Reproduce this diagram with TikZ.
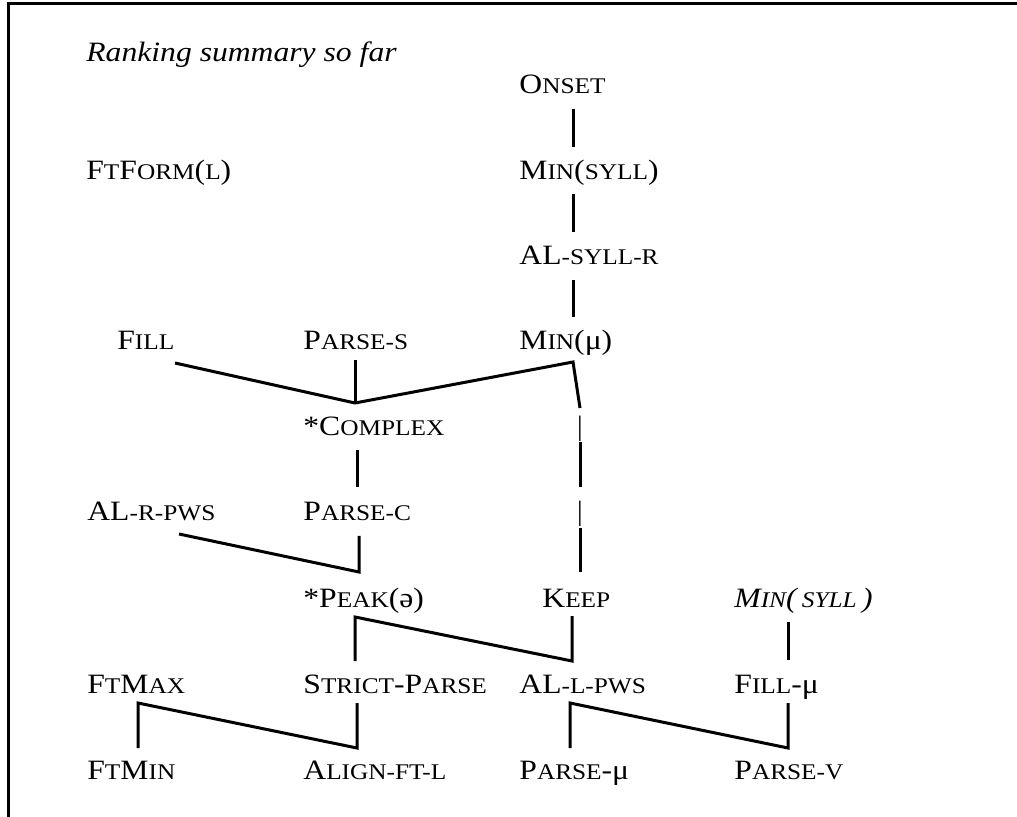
\documentclass[tikz,border=0pt]{standalone}
\usepackage{fontspec}
\setmainfont{Liberation Serif}
\usepackage{graphicx}
\newcommand\sm[1]{{\fontsize{11.2pt}{13pt}\selectfont #1}}
\newcommand\tx[1]{\scalebox{1.13}[1]{#1}}
\begin{document}
\begin{tikzpicture}[x=0.5pt,y=-0.5pt,
  lab/.style={anchor=base west,inner sep=0pt,font=\fontsize{14pt}{17pt}\selectfont},
  glyph/.style={anchor=base,inner sep=0pt,font=\fontsize{14pt}{17pt}\selectfont},
  con/.style={line width=1.5pt,line join=miter,line cap=butt},
  frame/.style={line width=1.5pt,line join=miter}]
\useasboundingbox (0,0) rectangle (1017,817);
\draw[frame] (8.5,817) -- (8.5,3.5) -- (1017,3.5);
% texts
\node[lab] (title) at (86,62) {\tx{\textit{Ranking summary so far}}};
\node[lab] (onset) at (519,94) {\tx{O\sm{NSET}}};
\node[lab] (ftform) at (86,180) {\tx{F\sm{T}F\sm{ORM}(\sm{L})}};
\node[lab] (minsyll) at (519,180) {\tx{M\sm{IN}(\sm{SYLL})}};
\node[lab] (alsyllr) at (519,265) {\tx{AL\sm{-SYLL-R}}};
\node[lab] (fill) at (117,350) {\tx{F\sm{ILL}}};
\node[lab] (parses) at (303,350) {\tx{P\sm{ARSE-S}}};
\node[lab] (minmu) at (519,350) {\tx{M\sm{IN}(μ)}};
\node[lab] (complex) at (303,436) {\tx{*C\sm{OMPLEX}}};
\node[lab] (alrpws) at (87,521) {\tx{AL\sm{-R-PWS}}};
\node[lab] (parsec) at (303,521) {\tx{P\sm{ARSE-C}}};
\node[lab] (peak) at (303,607) {\tx{*P\sm{EAK}(ə)}};
\node[lab] (keep) at (542,607) {\tx{K\sm{EEP}}};
\node[lab] (minsyllit) at (734,607) {\tx{\textit{M\sm{IN}(\,\sm{SYLL}\,)}}};
\node[lab] (ftmax) at (87,693) {\tx{F\sm{T}M\sm{AX}}};
\node[lab] (strict) at (303,693) {\tx{S\sm{TRICT}-P\sm{ARSE}}};
\node[lab] (allpws) at (519,693) {\tx{AL\sm{-L-PWS}}};
\node[lab] (fillmu) at (734,693) {\tx{F\sm{ILL}-μ}};
\node[lab] (ftmin) at (87,779) {\tx{F\sm{T}M\sm{IN}}};
\node[lab] (alignftl) at (303,779) {\tx{A\sm{LIGN-FT-L}}};
\node[lab] (parsemu) at (519,779) {\tx{P\sm{ARSE}-μ}};
\node[lab] (parsev) at (734,779) {\tx{P\sm{ARSE-V}}};
\node[glyph] (bar1) at (580,436) {|};
\node[glyph] (bar2) at (580,521) {|};
% connector end points
\coordinate (c1a) at (573,109); \coordinate (c1b) at (573,147);
\coordinate (c2a) at (573,194); \coordinate (c2b) at (573,232);
\coordinate (c3a) at (573,280); \coordinate (c3b) at (573,317);
\coordinate (f1) at (175,363); \coordinate (f2) at (355,403);
\coordinate (f3) at (573,362); \coordinate (f4) at (580,408);
\coordinate (ps1) at (355,360);
\coordinate (cx1) at (357,450); \coordinate (cx2) at (357,487);
\coordinate (r1) at (580,442); \coordinate (r2) at (580,487);
\coordinate (r3) at (580,528); \coordinate (r4) at (580,572);
\coordinate (ar1) at (179,534); \coordinate (ar2) at (359,572); \coordinate (ar3) at (359,536);
\coordinate (pk1) at (355,661); \coordinate (pk2) at (355,617);
\coordinate (pk3) at (572,661); \coordinate (pk4) at (572,616);
\coordinate (ms1) at (788,622); \coordinate (ms2) at (788,660);
\coordinate (fm1) at (138,748); \coordinate (fm2) at (138,703);
\coordinate (fm3) at (357,748); \coordinate (fm4) at (357,703);
\coordinate (al1) at (570,748); \coordinate (al2) at (570,703);
\coordinate (al3) at (788,748); \coordinate (al4) at (788,703);
% connectors
\draw[con] (c1a) -- (c1b);
\draw[con] (c2a) -- (c2b);
\draw[con] (c3a) -- (c3b);
\draw[con] (f1) -- (f2) -- (f3) -- (f4);
\draw[con] (ps1) -- (f2);
\draw[con] (cx1) -- (cx2);
\draw[con] (r1) -- (r2);
\draw[con] (r3) -- (r4);
\draw[con] (ar1) -- (ar2) -- (ar3);
\draw[con] (pk1) -- (pk2) -- (pk3) -- (pk4);
\draw[con] (ms1) -- (ms2);
\draw[con] (fm1) -- (fm2) -- (fm3) -- (fm4);
\draw[con] (al1) -- (al2) -- (al3) -- (al4);
\end{tikzpicture}
\end{document}
